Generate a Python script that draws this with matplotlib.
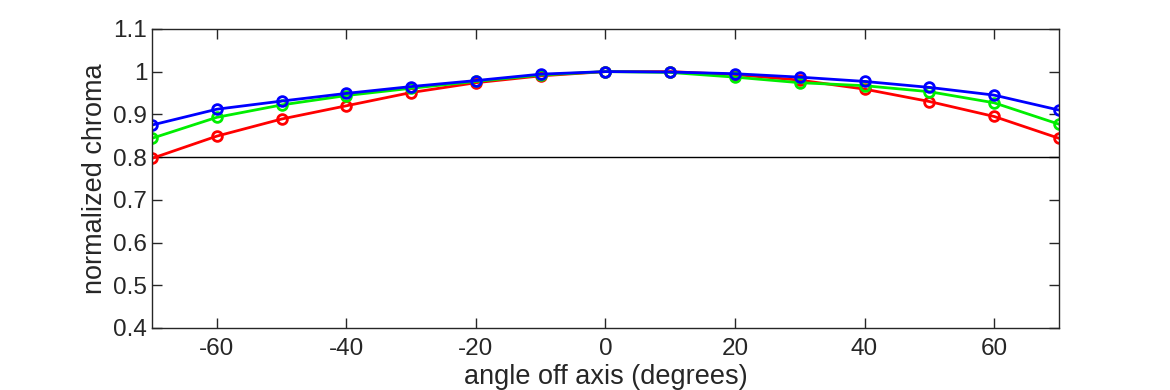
import numpy as np
import matplotlib
matplotlib.use("Agg")
import matplotlib.pyplot as plt

plt.rcParams['font.family'] = ['Liberation Sans', 'DejaVu Sans']
plt.rcParams['axes.unicode_minus'] = False

# angle off axis (degrees)
angles = [-70, -60, -50, -40, -30, -20, -10, 0, 10, 20, 30, 40, 50, 60, 70]

# normalized chroma per channel
red = [0.797, 0.849, 0.889, 0.920, 0.951, 0.974, 0.990, 1.000, 1.000, 0.993, 0.980, 0.959, 0.930, 0.895, 0.844]
green = [0.844, 0.893, 0.922, 0.944, 0.961, 0.977, 0.992, 1.000, 0.998, 0.987, 0.974, 0.967, 0.953, 0.927, 0.877]
blue = [0.875, 0.912, 0.931, 0.949, 0.965, 0.979, 0.994, 1.000, 0.999, 0.995, 0.987, 0.977, 0.963, 0.945, 0.910]

threshold = 0.8

fig = plt.figure(figsize=(11.7, 3.9), dpi=100)
ax = fig.add_axes([0.130, 0.159, 0.775, 0.767])

ax.axhline(threshold, color='black', linewidth=1)

for vals, col in [(red, '#ff0000'), (green, '#00ee00'), (blue, '#0000ff')]:
    ax.plot(angles, vals, color=col, linewidth=2, marker='o', markersize=7,
            markerfacecolor='none', markeredgewidth=2)

ax.set_xlim(-70, 70)
ax.set_ylim(0.4, 1.1)
ax.set_xticks([-60, -40, -20, 0, 20, 40, 60])
ax.set_yticks([0.4, 0.5, 0.6, 0.7, 0.8, 0.9, 1.0, 1.1])
ax.set_yticklabels(['0.4', '0.5', '0.6', '0.7', '0.8', '0.9', '1', '1.1'])
ax.tick_params(direction='in', top=True, right=True, length=7, width=1,
               labelsize=17.5, colors='#262626', labelcolor='#262626')
ax.tick_params(axis='x', pad=7)
for s in ax.spines.values():
    s.set_color('#262626')
    s.set_linewidth(1)

ax.set_xlabel('angle off axis (degrees)', fontsize=19.5, color='#262626', labelpad=3)
ax.set_ylabel('normalized chroma', fontsize=19.5, color='#262626', labelpad=4)

fig.savefig('out.png', dpi=100)
